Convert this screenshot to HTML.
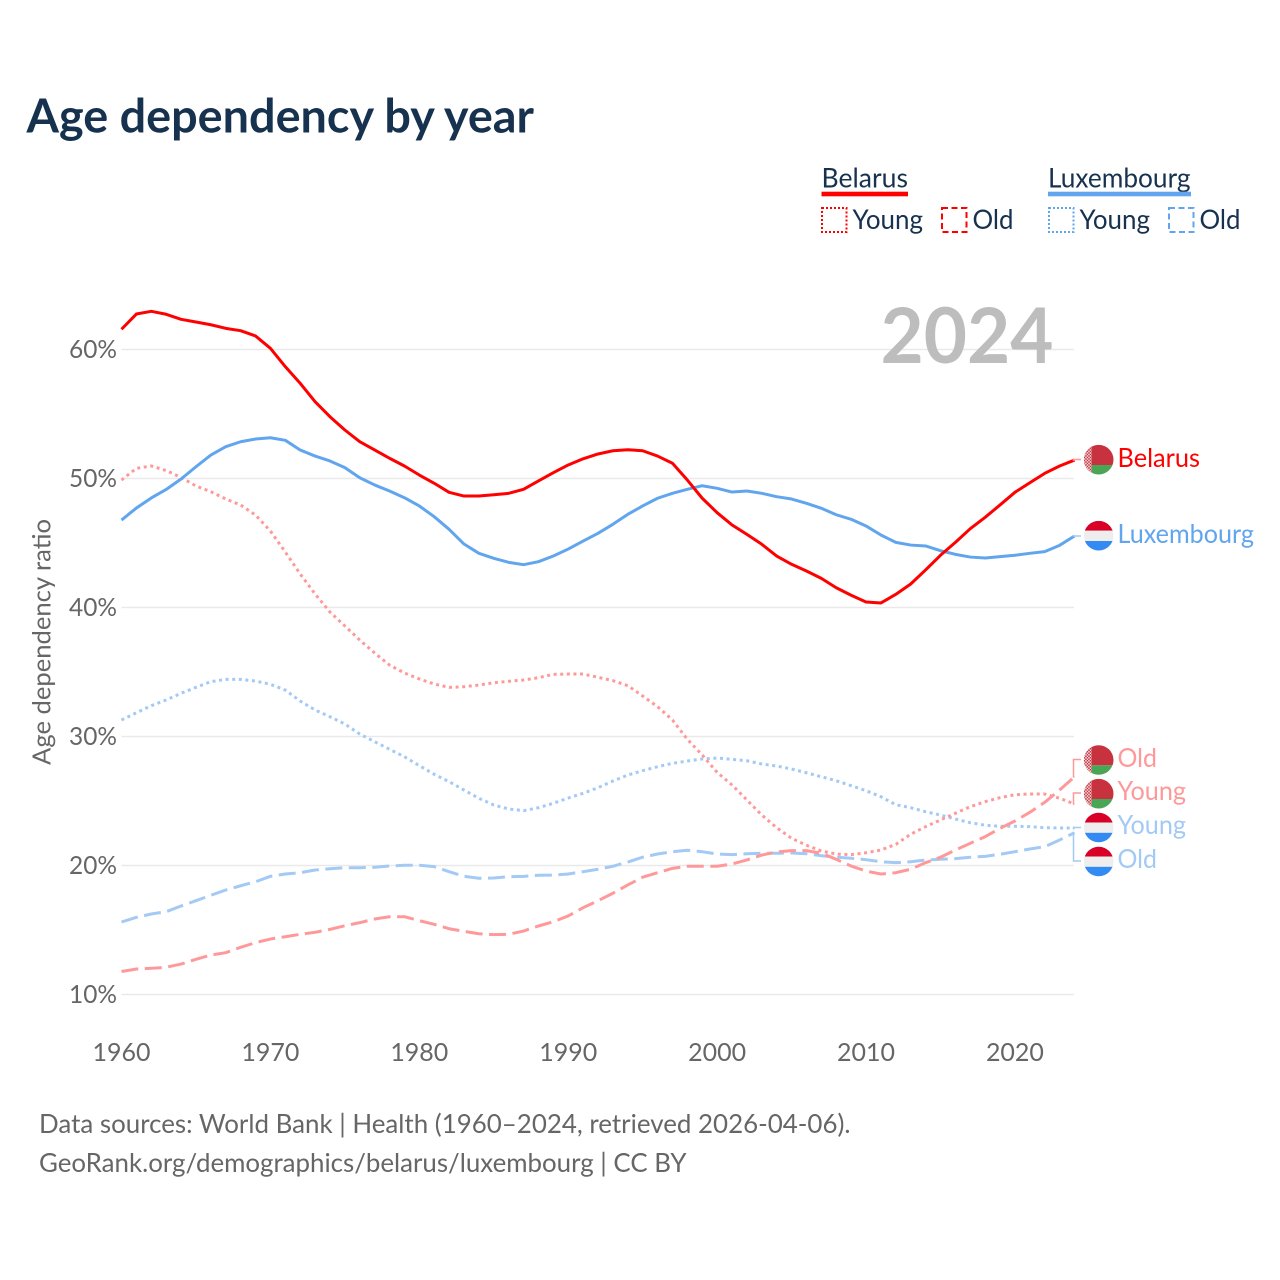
<!DOCTYPE html>
<html lang="en">
<head>
<meta charset="utf-8">
<title>Age dependency by year</title>
<style>
html,body{margin:0;padding:0;background:#fff;width:1280px;height:1280px;overflow:hidden}
svg{display:block}
text{font-family:"Lato","Carlito","Liberation Sans",sans-serif}
</style>
</head>
<body>
<svg id="chart" xmlns="http://www.w3.org/2000/svg" width="1280" height="1280" viewBox="0 0 1280 1280">
<defs>
<clipPath id="flag-clip"><circle cx="0" cy="0" r="14.8"/></clipPath>
<pattern id="by-ornament" width="3" height="3" patternUnits="userSpaceOnUse"><rect width="3" height="3" fill="#f3dfe1"/><rect width="1.5" height="1.5" fill="#c8313e"/><rect x="1.5" y="1.5" width="1.5" height="1.5" fill="#c8313e"/></pattern>
<g id="flag-by" clip-path="url(#flag-clip)"><rect x="-15" y="-15" width="30" height="20.3" fill="#c8313e"/><rect x="-15" y="5.3" width="30" height="10" fill="#4aa657"/><rect x="-15" y="-15" width="8" height="30" fill="url(#by-ornament)"/></g>
<g id="flag-lu" clip-path="url(#flag-clip)"><rect x="-15" y="-15" width="30" height="10" fill="#d80027"/><rect x="-15" y="-5" width="30" height="10.3" fill="#eeeeee"/><rect x="-15" y="5.3" width="30" height="10" fill="#338af3"/></g>
</defs>
<rect width="1280" height="1280" fill="#fff"/>
<text x="26.5" y="132.5" font-size="47" font-weight="700" fill="#17324f" textLength="507.5" lengthAdjust="spacingAndGlyphs">Age dependency by year</text>

<g>
<g>
<text x="821.5" y="187.5" font-size="27" fill="#17324f" textLength="86.5" lengthAdjust="spacingAndGlyphs">Belarus</text>
<rect x="821.5" y="191.7" width="86.5" height="4.6" fill="#ff0000"/>
<rect x="822" y="208" width="24.5" height="24" fill="none" stroke="#ff0000" stroke-width="2" stroke-dasharray="2 2"/>
<text x="852.5" y="229" font-size="27" fill="#17324f" textLength="70.5" lengthAdjust="spacingAndGlyphs">Young</text>
<rect x="942" y="208" width="24.5" height="24" fill="none" stroke="#ff0000" stroke-width="2" stroke-dasharray="6 3.5"/>
<text x="972.5" y="229" font-size="27" fill="#17324f" textLength="41" lengthAdjust="spacingAndGlyphs">Old</text>
</g>
<g>
<text x="1048" y="187.5" font-size="27" fill="#17324f" textLength="142.5" lengthAdjust="spacingAndGlyphs">Luxembourg</text>
<rect x="1048" y="191.7" width="143" height="4.6" fill="#60a5ee"/>
<rect x="1049" y="208" width="24.5" height="24" fill="none" stroke="#60a5ee" stroke-width="2" stroke-dasharray="2 2"/>
<text x="1079.5" y="229" font-size="27" fill="#17324f" textLength="70.5" lengthAdjust="spacingAndGlyphs">Young</text>
<rect x="1169" y="208" width="24.5" height="24" fill="none" stroke="#60a5ee" stroke-width="2" stroke-dasharray="6 3.5"/>
<text x="1199.5" y="229" font-size="27" fill="#17324f" textLength="41" lengthAdjust="spacingAndGlyphs">Old</text>
</g>
</g>

<g id="grid"></g>
<text x="880.5" y="363" font-size="77" font-weight="700" fill="#bdbdbd" textLength="173" lengthAdjust="spacingAndGlyphs">2024</text>
<g id="y-ticks"></g>
<g id="x-ticks"></g>
<text transform="translate(50.5,642) rotate(-90)" text-anchor="middle" font-size="25" fill="#666666" textLength="246" lengthAdjust="spacingAndGlyphs">Age dependency ratio</text>
<g id="series"></g>
<g id="connectors"></g>

<g>
<use href="#flag-by" x="1098.7" y="459.7"/>
<text x="1117.5" y="467" font-size="26" fill="#ff0000" textLength="82.5" lengthAdjust="spacingAndGlyphs">Belarus</text>
<use href="#flag-lu" x="1098.7" y="535.7"/>
<text x="1117.5" y="543" font-size="26" fill="#60a5ee" textLength="136.5" lengthAdjust="spacingAndGlyphs">Luxembourg</text>
<use href="#flag-by" x="1098.7" y="760"/>
<text x="1117.5" y="767" font-size="26" fill="#ff9999" textLength="39.5" lengthAdjust="spacingAndGlyphs">Old</text>
<use href="#flag-by" x="1098.7" y="793.7"/>
<text x="1117.5" y="800" font-size="26" fill="#ff9999" textLength="68.5" lengthAdjust="spacingAndGlyphs">Young</text>
<use href="#flag-lu" x="1098.7" y="861.5"/>
<use href="#flag-lu" x="1098.7" y="827.5"/>
<text x="1117.5" y="834" font-size="26" fill="#a3c9f5" textLength="68.5" lengthAdjust="spacingAndGlyphs">Young</text>
<text x="1117.5" y="868" font-size="26" fill="#a3c9f5" textLength="39.5" lengthAdjust="spacingAndGlyphs">Old</text>
</g>

<text x="39" y="1133" font-size="26.5" fill="#666666" textLength="811.5" lengthAdjust="spacingAndGlyphs">Data sources: World Bank | Health (1960–2024, retrieved 2026-04-06).</text>
<text x="39" y="1172" font-size="26.5" fill="#666666" textLength="647.5" lengthAdjust="spacingAndGlyphs">GeoRank.org/demographics/belarus/luxembourg | CC BY</text>
</svg>
<script>
const firstYear = 1960;
const lastYear = 2024;
const xTickYears = [1960, 1970, 1980, 1990, 2000, 2010, 2020];
const yTickValues = [10, 20, 30, 40, 50, 60];

const belarusTotal = [61.57,62.75,62.96,62.73,62.34,62.13,61.92,61.64,61.46,61.05,60.09,58.67,57.38,55.95,54.79,53.76,52.85,52.21,51.57,50.97,
50.27,49.63,48.93,48.64,48.64,48.74,48.85,49.16,49.81,50.45,51.05,51.53,51.9,52.15,52.23,52.15,51.74,51.18,49.88,48.47,47.35,46.4,
45.67,44.9,43.99,43.35,42.83,42.26,41.53,40.95,40.43,40.35,41.02,41.82,42.91,44.05,45.05,46.11,46.99,47.95,48.93,49.67,50.4,50.97,51.43];

const luxembourgTotal = [46.78,47.71,48.49,49.15,49.96,50.91,51.82,52.47,52.85,53.06,53.16,52.96,52.21,51.74,51.36,50.84,50.06,49.5,49.03,48.51,
47.87,47.04,46.06,44.92,44.2,43.81,43.5,43.32,43.55,43.99,44.53,45.15,45.75,46.45,47.22,47.87,48.47,48.85,49.16,49.44,49.24,48.95,
49.03,48.85,48.59,48.41,48.08,47.69,47.19,46.84,46.32,45.62,45.05,44.84,44.77,44.4,44.12,43.91,43.84,43.94,44.05,44.2,44.33,44.82,45.54];

const belarusYoung = [49.88,50.79,50.97,50.62,50.08,49.42,48.98,48.41,47.95,47.17,45.93,44.3,42.6,41.05,39.65,38.57,37.48,36.47,35.54,34.92,
34.46,34.07,33.81,33.86,33.99,34.17,34.28,34.38,34.56,34.82,34.84,34.84,34.59,34.33,33.94,33.14,32.31,31.28,29.78,28.57,27.22,26.24,
25.08,23.91,22.93,22.11,21.57,21.12,20.89,20.84,20.99,21.2,21.64,22.42,23.01,23.53,24.05,24.56,24.95,25.26,25.49,25.54,25.54,25.21,24.77];

const belarusOld = [11.78,11.98,12.03,12.11,12.36,12.73,13.06,13.24,13.66,14.02,14.3,14.48,14.67,14.82,15.05,15.33,15.57,15.85,16.03,16.03,
15.72,15.44,15.1,14.9,14.71,14.64,14.67,14.92,15.31,15.64,16.09,16.73,17.27,17.85,18.49,19.09,19.44,19.78,19.94,19.94,19.94,20.12,
20.43,20.81,21.05,21.15,21.15,20.95,20.48,19.96,19.57,19.34,19.44,19.71,20.22,20.64,21.2,21.72,22.23,22.88,23.45,24.12,24.9,25.85,26.88];

const luxembourgYoung = [31.28,31.84,32.39,32.83,33.35,33.81,34.25,34.43,34.43,34.3,34.05,33.6,32.75,32.05,31.53,30.97,30.19,29.6,29.01,28.43,
27.74,27.07,26.5,25.85,25.21,24.69,24.38,24.25,24.48,24.82,25.23,25.6,26.03,26.55,27.01,27.35,27.66,27.92,28.1,28.26,28.33,28.23,
28.12,27.87,27.71,27.48,27.19,26.88,26.57,26.19,25.8,25.33,24.71,24.48,24.17,23.91,23.6,23.32,23.12,23.04,23.04,23.01,22.93,22.91,22.91];

const luxembourgOld = [15.62,15.98,16.24,16.42,16.86,17.27,17.69,18.1,18.43,18.74,19.16,19.34,19.44,19.65,19.75,19.83,19.83,19.86,19.96,20.02,
20.02,19.91,19.52,19.16,19.01,19.03,19.13,19.16,19.24,19.26,19.34,19.52,19.71,19.94,20.27,20.64,20.89,21.07,21.18,21.07,20.89,20.84,
20.91,20.95,20.95,20.97,20.91,20.76,20.64,20.56,20.45,20.29,20.22,20.29,20.43,20.48,20.53,20.64,20.71,20.87,21.07,21.28,21.46,21.98,22.54];

const NS = 'http://www.w3.org/2000/svg';
function xScale(year) { return 121.5 + (year - firstYear) * (1074.5 - 121.5) / (lastYear - firstYear); }
function yScale(v) { return 994.5 - (v - 10) * 12.9; }
function make(tag, parent) {
  const el = document.createElementNS(NS, tag);
  parent.appendChild(el);
  return el;
}

const gridLayer = document.getElementById('grid');
const yTickLayer = document.getElementById('y-ticks');
yTickValues.forEach(function (v) {
  const line = make('line', gridLayer);
  
  
  line.setAttribute('x1', xScale(firstYear));
  line.setAttribute('x2', xScale(lastYear) - 0.5);
  line.setAttribute('y1', yScale(v));
  line.setAttribute('y2', yScale(v));
  line.setAttribute('stroke', '#e9e9e9');
  line.setAttribute('stroke-width', '1.6');
  const label = make('text', yTickLayer);
  
  
  label.setAttribute('x', 117);
  label.setAttribute('y', yScale(v) + 8.5);
  label.setAttribute('text-anchor', 'end');
  label.setAttribute('font-size', '25');
  label.setAttribute('fill', '#666666');
  label.setAttribute('textLength', '48');
  label.setAttribute('lengthAdjust', 'spacingAndGlyphs');
  label.textContent = v + '%';
});

const xTickLayer = document.getElementById('x-ticks');
xTickYears.forEach(function (year) {
  const label = make('text', xTickLayer);
  
  
  label.setAttribute('x', xScale(year));
  label.setAttribute('y', 1061);
  label.setAttribute('text-anchor', 'middle');
  label.setAttribute('font-size', '25');
  label.setAttribute('fill', '#666666');
  label.setAttribute('textLength', '58');
  label.setAttribute('lengthAdjust', 'spacingAndGlyphs');
  label.textContent = year;
});

function pointsFor(values) {
  return values.map(function (v, i) {
    return xScale(firstYear + i).toFixed(2) + ',' + yScale(v).toFixed(2);
  }).join(' ');
}

const seriesLayer = document.getElementById('series');
function drawLine(values, name, color, width, dash) {
  const line = make('polyline', seriesLayer);
  
  
  line.setAttribute('points', pointsFor(values));
  line.setAttribute('fill', 'none');
  line.setAttribute('stroke', color);
  line.setAttribute('stroke-width', width);
  line.setAttribute('stroke-linejoin', 'round');
  if (dash) line.setAttribute('stroke-dasharray', dash);
}
drawLine(luxembourgYoung, 'line-luxembourg-young', '#a3c9f5', 3, '3 3.6');
drawLine(belarusYoung, 'line-belarus-young', '#ff9999', 3, '3 3.6');
drawLine(luxembourgOld, 'line-luxembourg-old', '#a3c9f5', 3, '17 6.5');
drawLine(belarusOld, 'line-belarus-old', '#ff9999', 3, '17 6.5');
drawLine(luxembourgTotal, 'line-luxembourg-total', '#60a5ee', 3, '');
drawLine(belarusTotal, 'line-belarus-total', '#ff0000', 3, '');

const connectorLayer = document.getElementById('connectors');
function drawConnector(values, labelY, name, color) {
  const endY = yScale(values[values.length - 1]);
  const path = make('path', connectorLayer);
  
  
  path.setAttribute('d', 'M' + xScale(lastYear) + ' ' + endY + 'H1073.5V' + labelY + 'H1081');
  path.setAttribute('fill', 'none');
  path.setAttribute('stroke', color);
  path.setAttribute('stroke-width', '1.5');
}
drawConnector(belarusTotal, 459.5, 'connector-belarus', '#ff9999');
drawConnector(luxembourgTotal, 536, 'connector-luxembourg', '#a3c9f5');
drawConnector(belarusOld, 759.5, 'connector-belarus-old', '#ff9999');
drawConnector(belarusYoung, 793, 'connector-belarus-young', '#ff9999');
drawConnector(luxembourgYoung, 827.5, 'connector-luxembourg-young', '#a3c9f5');
drawConnector(luxembourgOld, 861, 'connector-luxembourg-old', '#a3c9f5');
</script>
</body>
</html>
